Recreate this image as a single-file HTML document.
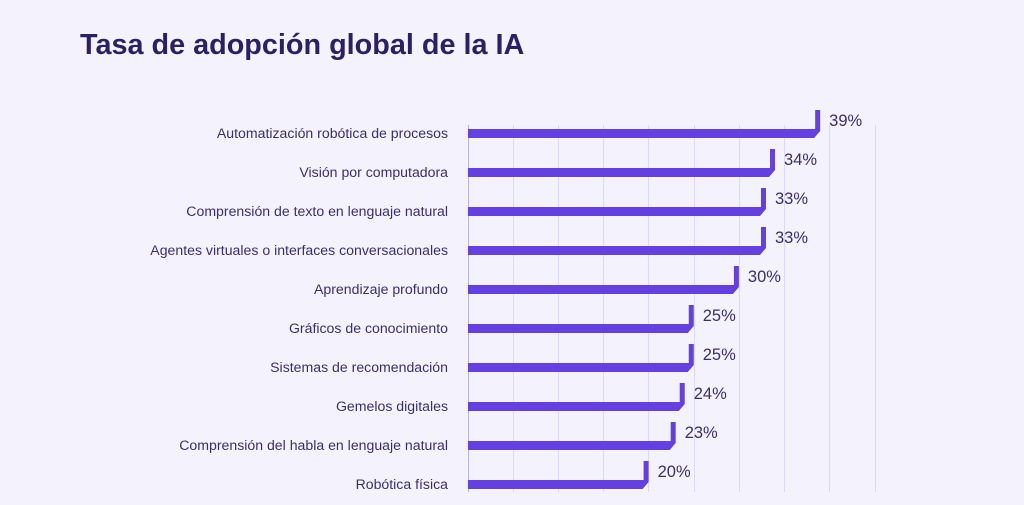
<!DOCTYPE html>
<html><head><meta charset="utf-8"><style>
body{margin:0;background:#f4f3fd;width:1024px;height:500px;overflow:hidden;font-family:"Liberation Sans",sans-serif}
</style></head><body>
<svg width="1024" height="500" xmlns="http://www.w3.org/2000/svg">
<rect width="1024" height="500" fill="#f4f3fd"/>
<text x="80" y="54" font-size="28.8" font-weight="bold" fill="#2b1f66" font-family="Liberation Sans, sans-serif">Tasa de adopción global de la IA</text>
<g stroke="#dcd8f7" stroke-width="1">
<line x1="513.5" y1="125" x2="513.5" y2="492"/><line x1="558.5" y1="125" x2="558.5" y2="492"/>
<line x1="603.5" y1="125" x2="603.5" y2="492"/><line x1="648.5" y1="125" x2="648.5" y2="492"/>
<line x1="694.5" y1="125" x2="694.5" y2="492"/><line x1="739.5" y1="125" x2="739.5" y2="492"/>
<line x1="784.5" y1="125" x2="784.5" y2="492"/><line x1="829.5" y1="125" x2="829.5" y2="492"/>
<line x1="875.5" y1="125" x2="875.5" y2="492"/>
</g>
<line x1="468.5" y1="125" x2="468.5" y2="492" stroke="#b9b2e6" stroke-width="1"/>
<g id="bars" fill="#6440e0"></g>
<g id="labels" font-size="14.1" fill="#3a2e70" text-anchor="end"></g>
<g id="vals" font-size="16.5" fill="#3a2e70"></g>
<script>
const d=[["Automatización robótica de procesos",39],["Visión por computadora",34],["Comprensión de texto en lenguaje natural",33],["Agentes virtuales o interfaces conversacionales",33],["Aprendizaje profundo",30],["Gráficos de conocimiento",25],["Sistemas de recomendación",25],["Gemelos digitales",24],["Comprensión del habla en lenguaje natural",23],["Robótica física",20]];
const ns="http://www.w3.org/2000/svg";
d.forEach((r,i)=>{const y0=129+i*39;const ex=468+r[1]*9.03;
const p=document.createElementNS(ns,"polygon");
p.setAttribute("points",`468,${y0} ${ex-5},${y0} ${ex-5},${y0-19} ${ex},${y0-19} ${ex},${y0+2} ${ex-6},${y0+9} 468,${y0+9}`);
document.getElementById("bars").appendChild(p);
const t=document.createElementNS(ns,"text");t.setAttribute("x",448);t.setAttribute("y",y0+9);t.textContent=r[0];document.getElementById("labels").appendChild(t);
const v=document.createElementNS(ns,"text");v.setAttribute("x",ex+9);v.setAttribute("y",y0-3);v.textContent=r[1]+"%";document.getElementById("vals").appendChild(v);});
</script>
</svg>
</body></html>
